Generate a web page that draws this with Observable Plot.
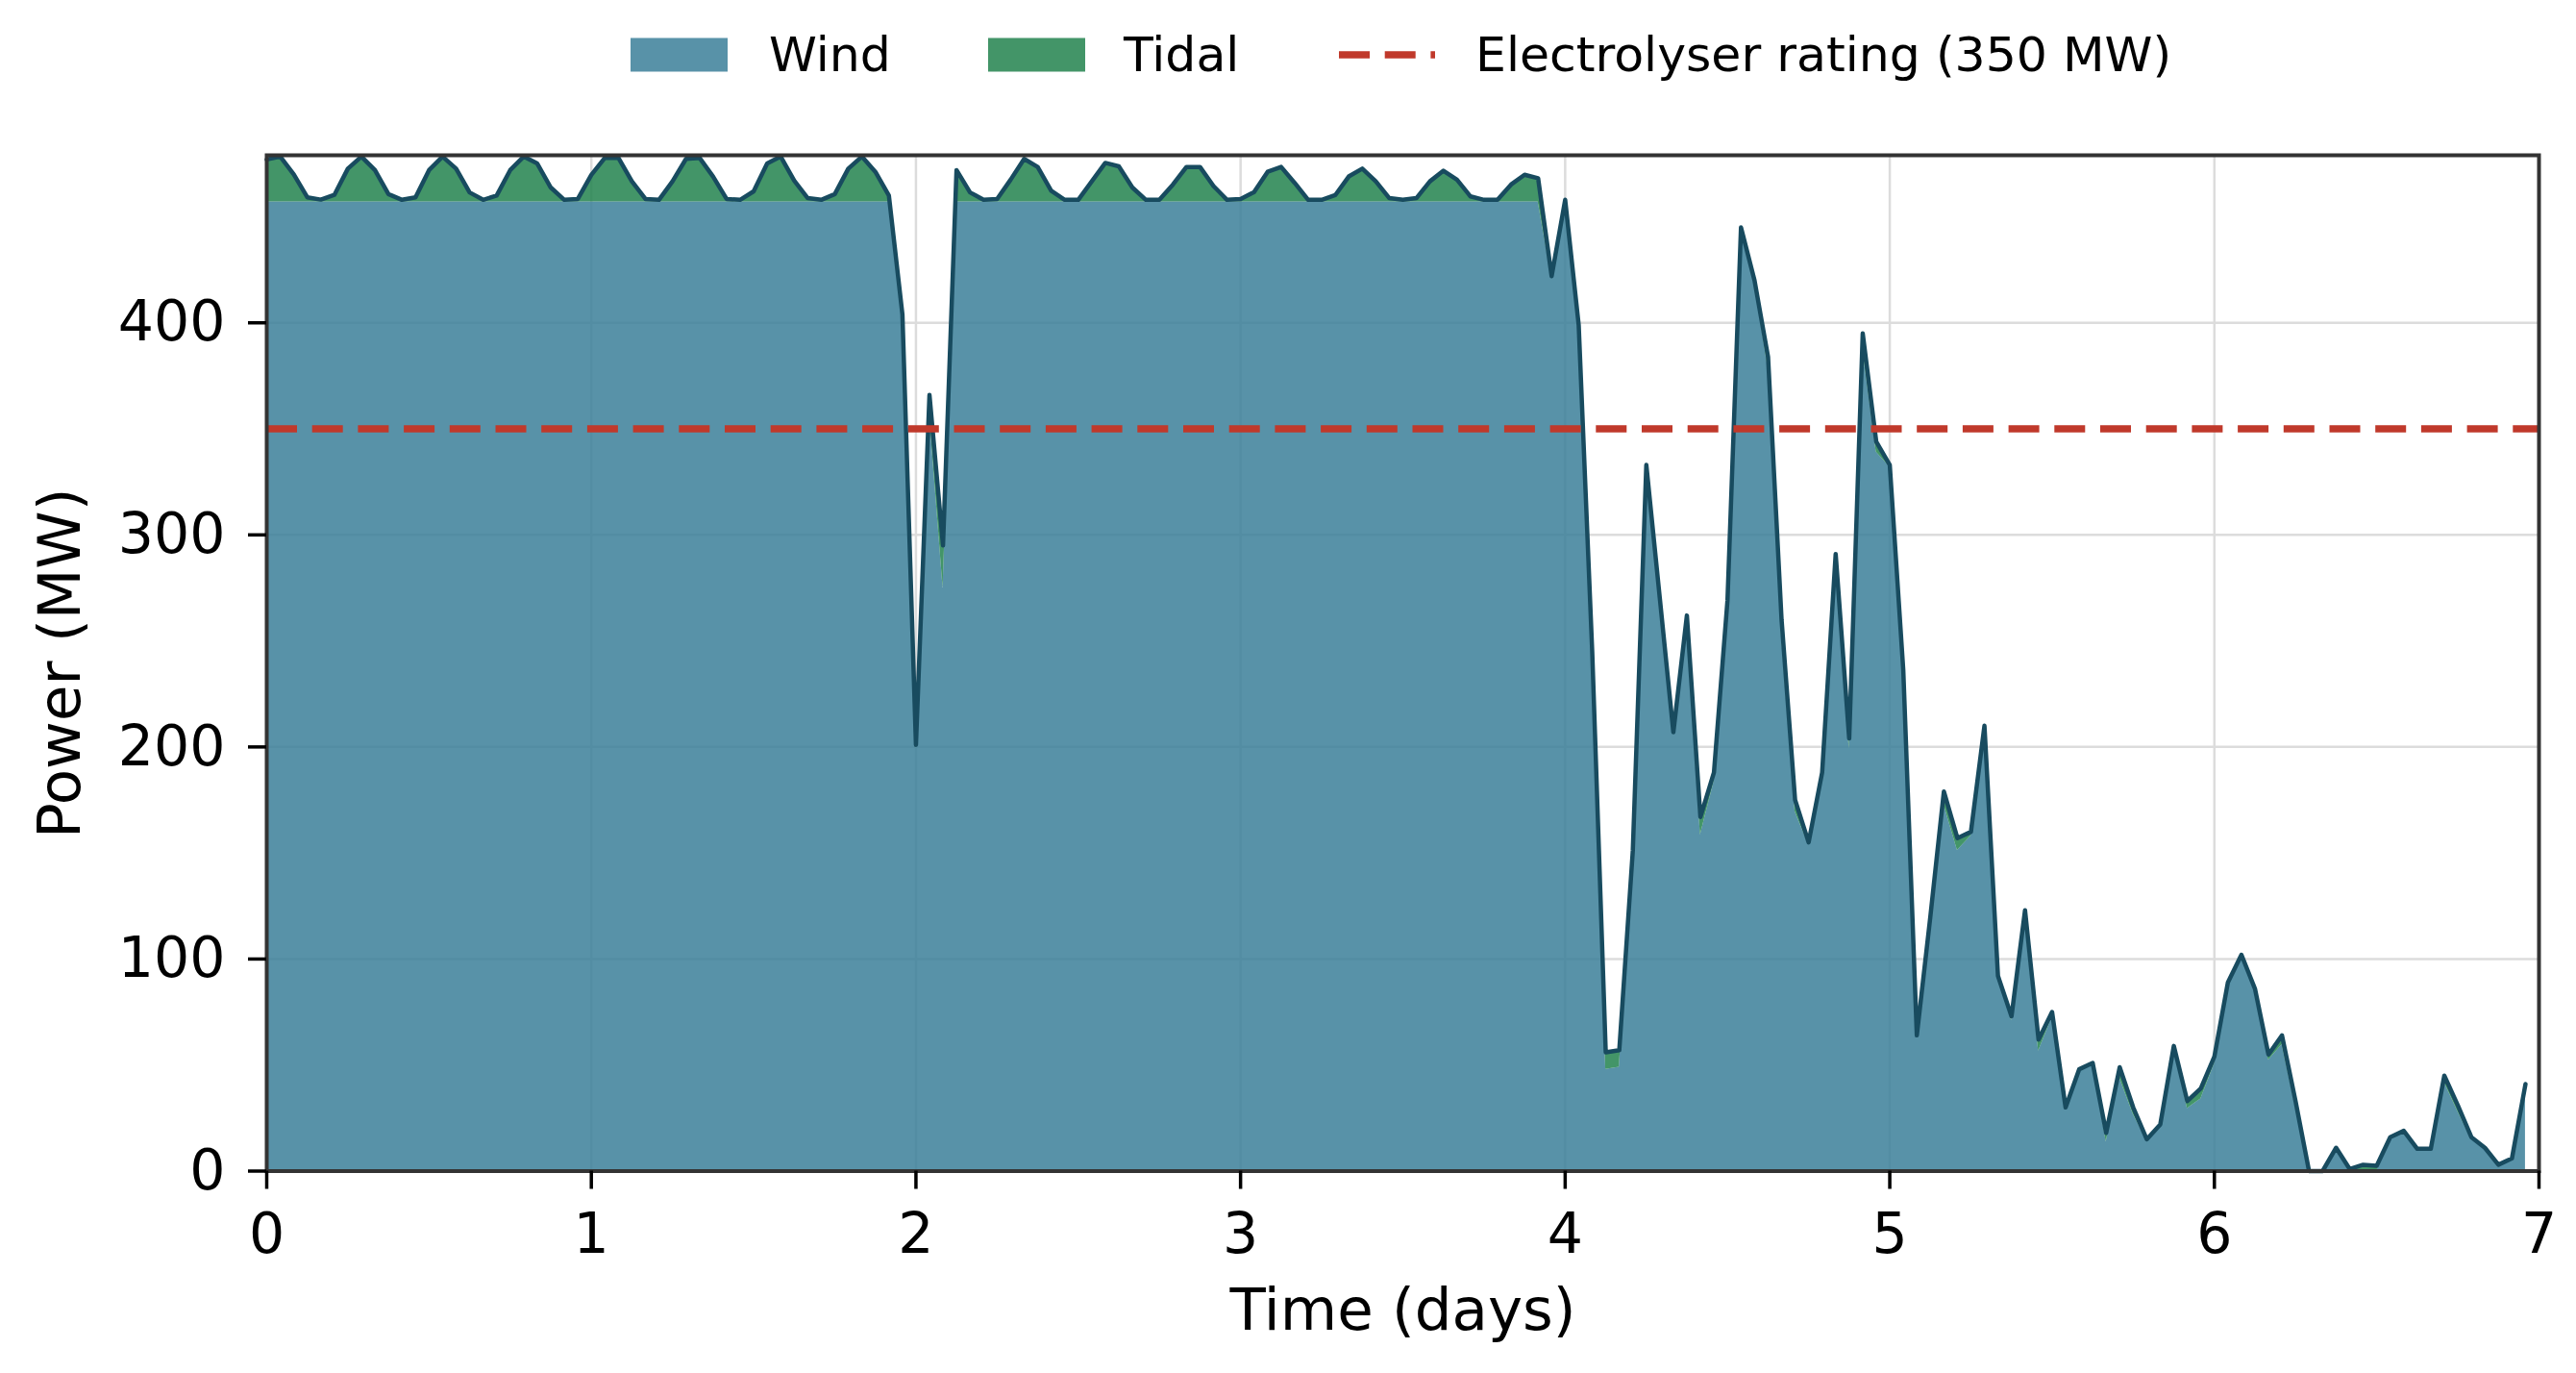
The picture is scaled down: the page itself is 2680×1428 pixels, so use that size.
<!DOCTYPE html>
<html>
<head>
<meta charset="utf-8">
<script src="https://cdn.jsdelivr.net/npm/d3@7"></script>
<script src="https://cdn.jsdelivr.net/npm/@observablehq/plot@0.6"></script>
<style>
  html, body { margin: 0; padding: 0; background: #fff; }
  body { width: 2680px; height: 1428px; overflow: hidden; font-family: "DejaVu Sans", sans-serif; }
  #legend { display: block; }
  #chart svg { display: block; }
</style>
</head>
<body>
<svg id="legend" width="2680" height="100"></svg>
<div id="chart"></div>
<script>
// Hourly samples (index = hour from start); time axis in days
const windMW = [
  457,457,457,457,457,457,457,457,457,457,457,457,457,457,457,457,457,457,457,457,457,457,457,457,
  457,457,457,457,457,457,457,457,457,457,457,457,457,457,457,457,457,457,457,457,457,457,457,404,
  199,357,275,457,457,457,457,457,457,457,457,457,457,457,457,457,457,457,457,457,457,457,457,457,
  457,457,457,457,457,457,457,457,457,457,457,457,457,457,457,457,457,457,457,457,457,457,457,421,
  457,398.5,242,48,49,147,331.5,269.5,205.5,255,158.5,183.5,268,444.7,418.8,378.4,252,169.4,153.8,187.7,289.9,199,387.5,339,
  332,235.7,63.4,117,172.7,151.2,158,209.5,91.8,71,117.8,56.6,72.5,29.7,47.9,49.8,13.8,43.7,26.7,14.4,21.9,58.2,29.5,34,
  50.5,88.2,101.8,85.4,52.2,59.6,30,0,0,10.7,0,0,0,14.7,18.5,10.4,9.3,41.8,28,15,10.8,2.9,5.5,38.8
];
const tidalMW = [
  20,21.4,13,2.2,1.1,3.3,15.7,21.4,15,3.7,1,2.2,15,21.4,15.7,4.5,1,3,15,21.4,18.1,6.8,1,1.4,
  12.8,20.8,20.8,9.7,1.4,1,9.7,20.3,20.8,12,1.4,1,5,18.1,21.4,10,1.8,1,3.7,15.7,21.4,14.2,3,0,
  2,9,20,15,4.5,1,1.4,10.5,20.3,16.5,5.3,1,1,9.7,18.4,16.8,6.8,1,1,8.2,16.5,16.5,7.5,1,
  1.4,4.7,14.2,16.5,9,1,1,3.2,12,15.7,9.7,1.8,1,1.8,9.7,14.7,10.5,2.6,1,1,8.2,12.8,11.2,1,
  1,0.5,3,8,8,4,1.5,0.5,1.5,7,8.5,4.5,1,0.3,1.2,5.6,8,5.6,1.2,0.3,1.1,5,7.5,5,
  1,0.3,0.6,3,6.3,5.8,2,0.5,0.2,2,5.2,5.4,2.5,0.3,0.1,1.2,4.2,5.3,3.3,0.6,0.1,0.8,3.5,5,
  3.5,0.8,0.2,0.6,2.8,4.4,3,0,0,0.3,1,3,2.5,1.3,0.5,0.1,1.2,3.2,3,1,0.2,0.1,0.5,2.2
];
const ratingMW = 350;
const xTicks = [0, 1, 2, 3, 4, 5, 6, 7];
const yTicks = [0, 100, 200, 300, 400];
const seriesNames = ["Wind", "Tidal"];
const ratingLabel = "Electrolyser rating (350 MW)";
const xLabel = "Time (days)";
const yLabel = "Power (MW)";

const windColor = "#3b7f99";
const tidalColor = "#22834d";
const lineColor = "#184b5f";
const ratingColor = "#c0392b";
const areaOpacity = 0.85;
const dash = "32,15.7";

const rows = windMW.map((w, i) => ({t: i / 24, wind: w, total: w + tidalMW[i]}));

// Legend
const lg = d3.select("#legend");
const ff = "DejaVu Sans";
lg.append("rect").attr("x", 656).attr("y", 39.5).attr("width", 101).attr("height", 35)
  .attr("fill", windColor).attr("fill-opacity", areaOpacity);
lg.append("text").attr("x", 800).attr("y", 74).attr("font-family", ff).attr("font-size", 50.5).text(seriesNames[0]);
lg.append("rect").attr("x", 1028).attr("y", 39.5).attr("width", 101).attr("height", 35)
  .attr("fill", tidalColor).attr("fill-opacity", areaOpacity);
lg.append("text").attr("x", 1169).attr("y", 74).attr("font-family", ff).attr("font-size", 50.5).text(seriesNames[1]);
lg.append("line").attr("x1", 1393).attr("x2", 1493).attr("y1", 57).attr("y2", 57)
  .attr("stroke", ratingColor).attr("stroke-width", 7.5).attr("stroke-dasharray", dash);
lg.append("text").attr("x", 1535).attr("y", 74).attr("font-family", ff).attr("font-size", 50.5).text(ratingLabel);

const chart = Plot.plot({
  width: 2680,
  height: 1328,
  marginTop: 61,
  marginBottom: 210.5,
  marginLeft: 277,
  marginRight: 39,
  style: {fontFamily: "DejaVu Sans", fontSize: "58.5px", color: "#000", background: "#fff", overflow: "visible"},
  x: {domain: [0, 7]},
  y: {domain: [0, 479]},
  marks: [
    Plot.gridX(xTicks, {stroke: "#dcdcdc", strokeOpacity: 1, strokeWidth: 2.5}),
    Plot.gridY(yTicks, {stroke: "#dcdcdc", strokeOpacity: 1, strokeWidth: 2.5}),
    Plot.areaY(rows, {x: "t", y1: 0, y2: "wind", fill: windColor, fillOpacity: areaOpacity}),
    Plot.areaY(rows, {x: "t", y1: "wind", y2: "total", fill: tidalColor, fillOpacity: areaOpacity}),
    Plot.lineY(rows, {x: "t", y: "total", stroke: lineColor, strokeWidth: 4.5, strokeLinejoin: "round"}),
    Plot.ruleY([ratingMW], {stroke: ratingColor, strokeWidth: 7.5, strokeDasharray: dash}),
    Plot.frame({stroke: "#333", strokeWidth: 4}),
    Plot.axisX(xTicks, {tickSize: 19, tickPadding: 24, strokeWidth: 3.5, label: null, stroke: "#000", tickFormat: d3.format("d")}),
    Plot.axisY(yTicks, {tickSize: 19, tickPadding: 24, strokeWidth: 3.5, label: null, stroke: "#000", tickFormat: d3.format("d")}),
    Plot.text([xLabel], {frameAnchor: "bottom", dy: 165, fontSize: 61, text: d => d}),
    Plot.text([yLabel], {frameAnchor: "left", rotate: -90, textAnchor: "middle", dx: -214.5, fontSize: 61, text: d => d})
  ]
});
document.getElementById("chart").appendChild(chart);
</script>
</body>
</html>
